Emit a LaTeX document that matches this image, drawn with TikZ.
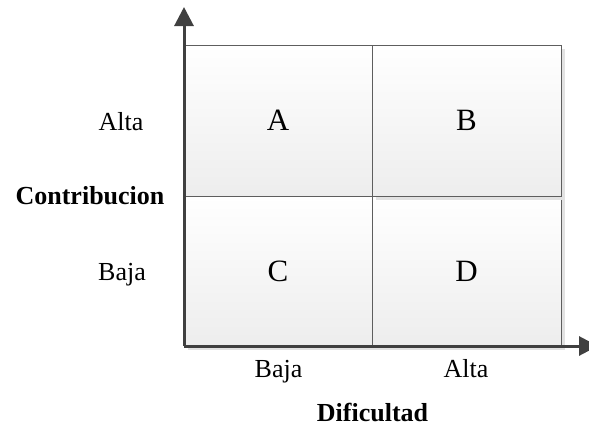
\documentclass[tikz,border=0pt]{standalone}
\usepackage{fontspec}
\setmainfont{Liberation Serif}
\usetikzlibrary{arrows.meta,shadows}
\definecolor{axisgray}{HTML}{404040}
\definecolor{cellborder}{HTML}{5E5E5E}
\definecolor{cellshadow}{HTML}{E2E2E2}
\tikzset{
  cell/.style={rectangle, draw=cellborder, line width=1pt, inner sep=0pt,
    top color=white, bottom color=black!7,
    drop shadow={shadow xshift=4pt, shadow yshift=-4pt, fill=cellshadow, opacity=1},
    font=\fontsize{31}{31}\selectfont},
  axislabel/.style={anchor=base, inner sep=0pt, font=\fontsize{26}{26}\selectfont},
  axistitle/.style={anchor=base, inner sep=0pt, font=\fontsize{26}{26}\selectfont\bfseries},
  axisline/.style={draw=axisgray, line width=3pt,
    -{Triangle[length=19pt,width=19pt]}, fill=axisgray}
}
\begin{document}
\begin{tikzpicture}[x=1pt, y=-1pt]
  \useasboundingbox (0,0) rectangle (589,426);
  % four quadrants, drawn so the right-hand shadows fall as they should
  \node[cell, minimum width=188pt, minimum height=151pt] (A) at (278,120.5) {A};
  \node[cell, minimum width=188pt, minimum height=150pt] (C) at (278,271) {C};
  \node[cell, minimum width=189pt, minimum height=150pt] (D) at (466.5,271) {D};
  \node[cell, minimum width=189pt, minimum height=151pt] (B) at (466.5,120.5) {B};
  % axes
  \coordinate (O) at (184,346);
  \coordinate (ytip) at (184,7);
  \coordinate (xtip) at (598,346);
  \draw[axisline] (O) -- (ytip);
  \draw[axisline] (O) -- (xtip);
  % vertical axis labels
  \node[axislabel] (yhigh) at (121,130) {Alta};
  \node[axistitle] (ytitle) at (90,204) {Contribucion};
  \node[axislabel] (ylow) at (122,280) {Baja};
  % horizontal axis labels
  \node[axislabel] (xlow) at (278.5,377.5) {Baja};
  \node[axislabel] (xhigh) at (466,377.5) {Alta};
  \node[axistitle] (xtitle) at (372.5,421.5) {Dificultad};
\end{tikzpicture}
\end{document}
